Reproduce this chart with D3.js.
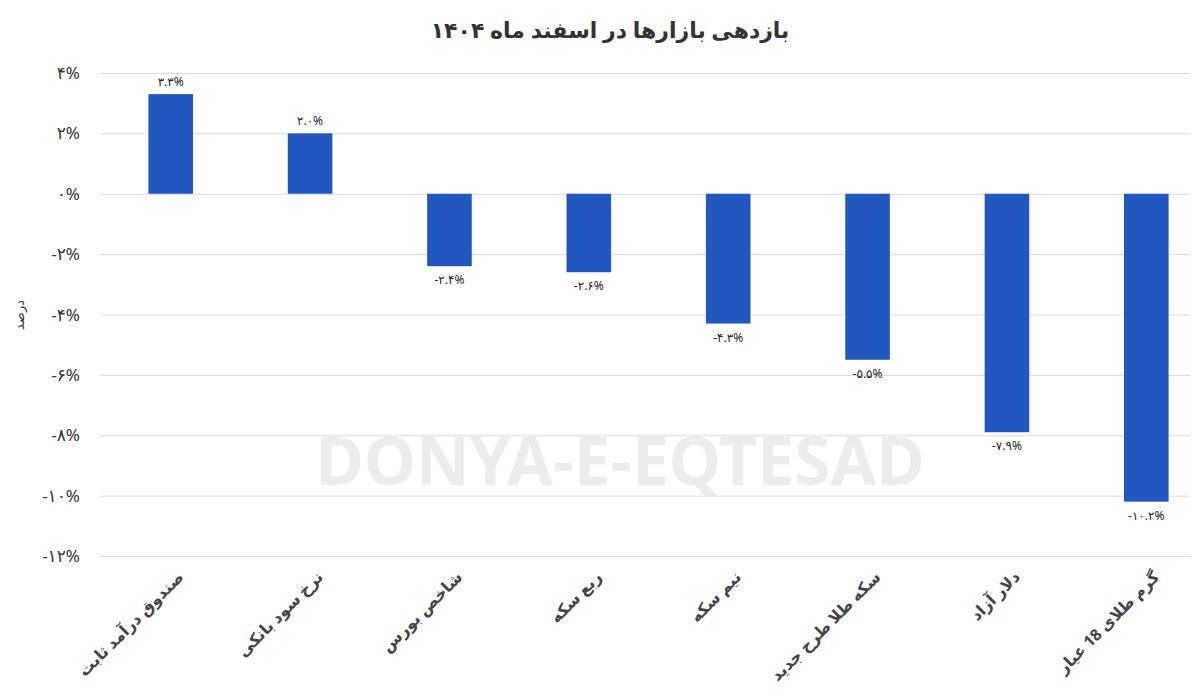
<!DOCTYPE html>
<html><head><meta charset="utf-8">
<script src="https://cdn.jsdelivr.net/npm/d3@7"></script>
<style>body{margin:0;background:#fff}svg{display:block}text{font-family:"Noto Sans","DejaVu Sans",sans-serif}</style>
</head><body><svg id="c" width="1200" height="698"></svg>
<script>
const categories=["صندوق درآمد ثابت","نرخ سود بانکی","شاخص بورس","ربع سکه","نیم سکه","سکه طلا طرح جدید","دلار آزاد","گرم طلای 18 عیار"];
const values=[3.3,2.0,-2.4,-2.6,-4.3,-5.5,-7.9,-10.2];
const valueLabels=["۳.۳%","۲.۰%","-۲.۴%","-۲.۶%","-۴.۳%","-۵.۵%","-۷.۹%","-۱۰.۲%"];
const ticks=[4,2,0,-2,-4,-6,-8,-10,-12];
const tickLabels=["۴%","۲%","۰%","-۲%","-۴%","-۶%","-۸%","-۱۰%","-۱۲%"];
const svg=d3.select("#c");
const y=d3.scaleLinear().domain([-12,4]).range([556,73]);
const x=d3.scaleBand().domain(categories).range([101,1216]).paddingInner(0.68).paddingOuter(0.34);
svg.append("text").attr("x",620).attr("y",485).attr("text-anchor","middle").attr("font-size",66).attr("font-weight","bold").attr("fill","#ececec").text("DONYA-E-EQTESAD");
svg.append("g").selectAll("line").data(ticks).join("line").attr("x1",100).attr("x2",1190).attr("y1",d=>y(d)+0.5).attr("y2",d=>y(d)+0.5).attr("stroke","#d9d9d9");
svg.append("g").selectAll("text").data(ticks).join("text").attr("x",80).attr("y",d=>y(d)+6).attr("text-anchor","end").attr("font-size",17).attr("fill","#333").text((d,i)=>tickLabels[i]);
svg.append("g").selectAll("rect").data(values).join("rect").attr("x",(d,i)=>x(categories[i])).attr("width",x.bandwidth())
 .attr("y",d=>y(Math.max(0,d))).attr("height",d=>Math.abs(y(d)-y(0))).attr("fill","#2257c0");
svg.append("g").selectAll("text").data(values).join("text").attr("x",(d,i)=>x(categories[i])+x.bandwidth()/2)
 .attr("y",d=>d>=0?y(d)-8:y(d)+18).attr("text-anchor","middle").attr("font-size",12).attr("fill","#222").text((d,i)=>valueLabels[i]);
svg.append("g").selectAll("text").data(categories).join("text")
 .attr("transform",d=>`translate(${x(d)+x.bandwidth()/2+14},${578}) rotate(-45)`).attr("text-anchor","start").attr("direction","rtl")
 .attr("font-size",16).attr("font-weight","bold").attr("fill","#444").text(d=>d);
svg.append("text").attr("x",610).attr("y",38).attr("text-anchor","middle").attr("font-size",22).attr("font-weight","bold").attr("fill","#333").text("بازدهی بازارها در اسفند ماه ۱۴۰۴");
svg.append("text").attr("transform","translate(24,315) rotate(-90)").attr("text-anchor","middle").attr("font-size",13).attr("fill","#333").text("درصد");
</script></body></html>
